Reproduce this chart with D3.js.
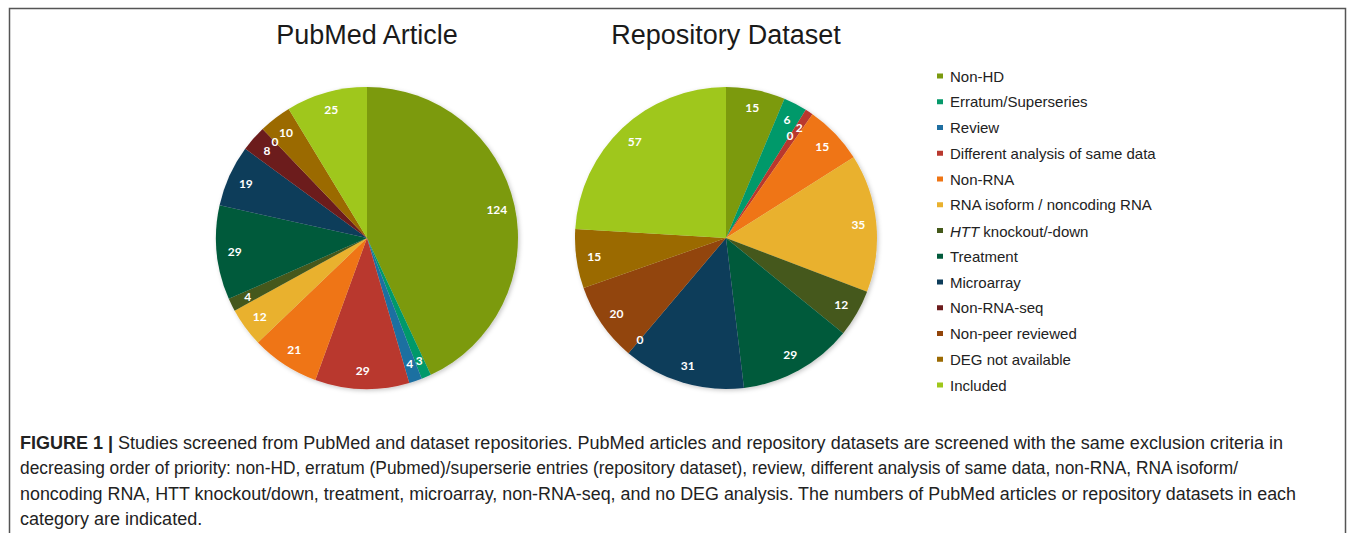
<!DOCTYPE html>
<html>
<head>
<meta charset="utf-8">
<script src="https://cdn.jsdelivr.net/npm/d3@7"></script>
<style>
	body { margin: 0; background: #fff; }
	svg { display: block; }
</style>
</head>
<body>
<div id="chart"></div>
<script>
// categories in exclusion priority order
const categories = [
	'Non-HD',
	'Erratum/Superseries',
	'Review',
	'Different analysis of same data',
	'Non-RNA',
	'RNA isoform / noncoding RNA',
	'HTT knockout/-down',
	'Treatment',
	'Microarray',
	'Non-RNA-seq',
	'Non-peer reviewed',
	'DEG not available',
	'Included',
];
const pubmedCounts = [124, 3, 4, 29, 21, 12, 4, 29, 19, 8, 0, 10, 25];
const repositoryCounts = [15, 6, 0, 2, 15, 35, 12, 29, 31, 0, 20, 15, 57];
const sliceColors = [
	'#7b9a0f', '#05996a', '#1f6fa1', '#b9392f', '#ef7514', '#e9b12e', '#44591a',
	'#015a3b', '#0d3c5a', '#6c1b1c', '#924409', '#9b6a02', '#9fc71b',
];
const pieTitles = ['PubMed Article', 'Repository Dataset'];
const captionLines = [
	'Studies screened from PubMed and dataset repositories. PubMed articles and repository datasets are screened with the same exclusion criteria in',
	'decreasing order of priority: non-HD, erratum (Pubmed)/superserie entries (repository dataset), review, different analysis of same data, non-RNA, RNA isoform/',
	'noncoding RNA, HTT knockout/down, treatment, microarray, non-RNA-seq, and no DEG analysis. The numbers of PubMed articles or repository datasets in each',
	'category are indicated.',
];

const width = 1355;
const height = 533;
const radius = 151;
const pieCenters = [[367, 238], [726, 238]];
const labelRadius = 133;
const sansFont = '"Liberation Sans", Arial, sans-serif';

const svg = d3.select('#chart')
	.append('svg')
	.attr('width', width)
	.attr('height', height);

svg.append('rect').attr('width', width).attr('height', height).attr('fill', '#fff');

const defs = svg.append('defs');
const shadow = defs.append('filter').attr('id', 'shadow')
	.attr('x', '-10%').attr('y', '-10%').attr('width', '120%').attr('height', '120%');
shadow.append('feDropShadow')
	.attr('dx', 1.5).attr('dy', 1.5).attr('stdDeviation', 2)
	.attr('flood-color', '#000').attr('flood-opacity', 0.22);

// frame round the figure (open at the bottom)
svg.append('path')
	.attr('d', `M9.5,${height} V8.5 H1345.5 V${height}`)
	.attr('fill', 'none')
	.attr('stroke', '#555')
	.attr('stroke-width', 1.5);

const pie = d3.pie().sort(null).value(d => d.value);
const arc = d3.arc().innerRadius(0).outerRadius(radius);

function drawPie(counts, center, title) {
	const data = categories.map((c, i) => ({ name: c, value: counts[i], color: sliceColors[i] }));
	const arcs = pie(data);

	const g = svg.append('g').attr('transform', `translate(${center[0]},${center[1]})`);

	g.append('text')
		.attr('x', 0)
		.attr('y', -radius - 43)
		.attr('text-anchor', 'middle')
		.style('font-family', sansFont)
		.style('font-size', '27px')
		.attr('fill', '#1a1a1a')
		.text(title);

	g.append('g')
		.attr('filter', 'url(#shadow)')
		.selectAll('path')
		.data(arcs)
		.enter()
		.append('path')
		.attr('d', arc)
		.attr('fill', d => d.data.color);

	// label positions, pulled inward when one would sit on top of the next
	const pos = arcs.map(d => {
		const a = (d.startAngle + d.endAngle) / 2;
		return { a, r: labelRadius, text: d.data.value };
	});
	pos.forEach((p, i) => {
		const n = pos[i + 1];
		if (n && Math.abs(n.a - p.a) * labelRadius < 6) p.r = labelRadius - 12;
	});

	g.append('g')
		.selectAll('text')
		.data(pos)
		.enter()
		.append('text')
		.attr('x', d => Math.sin(d.a) * d.r)
		.attr('y', d => -Math.cos(d.a) * d.r)
		.attr('text-anchor', 'middle')
		.attr('dominant-baseline', 'central')
		.style('font-family', 'Lato, "Open Sans", sans-serif')
		.style('font-weight', 700)
		.style('font-size', '12px')
		.attr('fill', '#fff')
		.text(d => d.text);
}

drawPie(pubmedCounts, pieCenters[0], pieTitles[0]);
drawPie(repositoryCounts, pieCenters[1], pieTitles[1]);

// legend
const legendY = d3.scalePoint().domain(categories).range([76, 385]);
const legend = svg.append('g');
const item = legend.selectAll('g')
	.data(categories)
	.enter()
	.append('g')
	.attr('transform', d => `translate(937,${legendY(d)})`);

item.append('rect')
	.attr('x', 0).attr('y', -2.5)
	.attr('width', 6).attr('height', 5)
	.attr('fill', (d, i) => sliceColors[i]);

item.append('text')
	.attr('x', 13)
	.attr('y', 0)
	.attr('dominant-baseline', 'central')
	.style('font-family', sansFont)
	.style('font-size', '15px')
	.attr('fill', '#222')
	.each(function (d) {
		const t = d3.select(this);
		if (d.startsWith('HTT')) {
			t.append('tspan').style('font-style', 'italic').text('HTT');
			t.append('tspan').text(d.slice(3));
		} else {
			t.text(d);
		}
	});

// caption, squeezed to the condensed widths of the original
const captionWidths = [1263, 1218, 1276];
const caption = svg.append('g').attr('transform', 'translate(20,0)');
let squeeze = 1;

captionLines.forEach((line, i) => {
	const t = caption.append('text')
		.attr('x', 0)
		.attr('y', 449 + i * 25.3)
		.style('font-family', sansFont)
		.style('font-size', '17.5px')
		.attr('fill', '#222');
	if (i === 0) {
		t.append('tspan').style('font-weight', 700).text('FIGURE 1 | ');
	}
	t.append('tspan').text(line);
	const natural = t.node().getComputedTextLength();
	if (i === 0) squeeze = captionWidths[0] / natural;
	const target = captionWidths[i] ?? natural * squeeze;
	t.attr('textLength', target).attr('lengthAdjust', 'spacingAndGlyphs');
});
</script>
</body>
</html>
